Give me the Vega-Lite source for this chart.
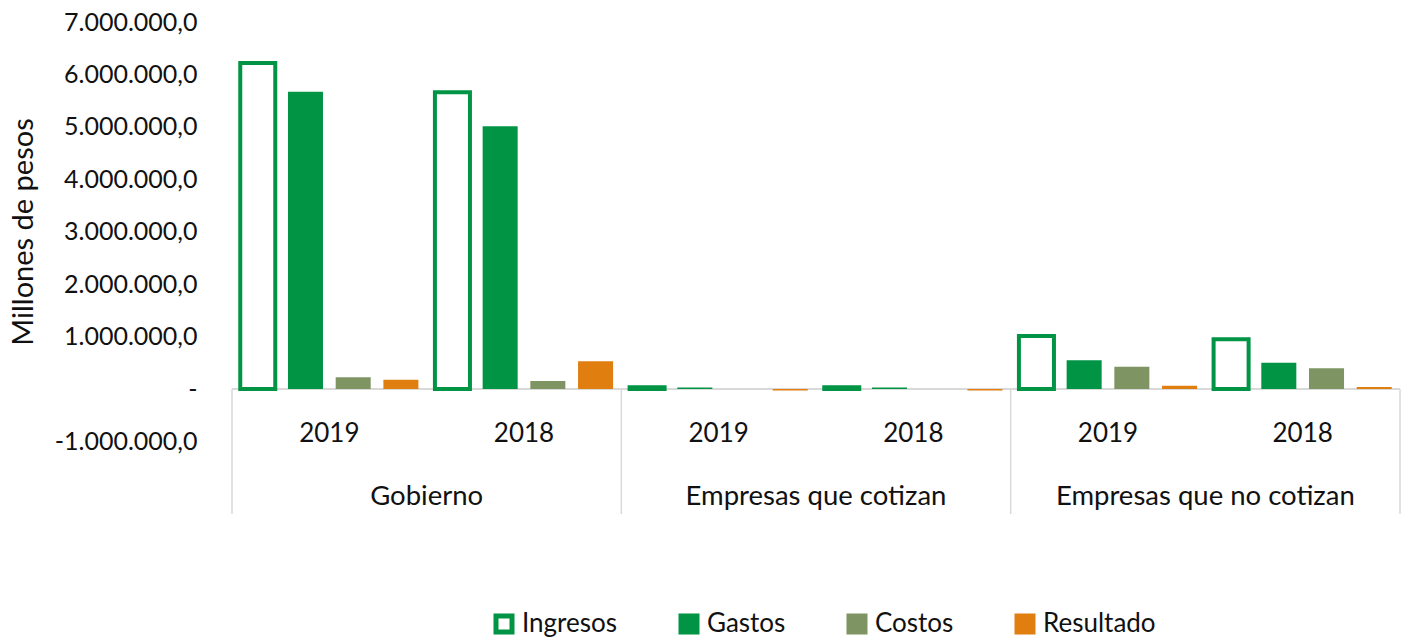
{
  "$schema": "https://vega.github.io/schema/vega-lite/v6.json",
  "width": 1168,
  "height": 492,
  "autosize": {"type": "none"},
  "padding": {"left": 232, "top": 22, "right": 8, "bottom": 125},
  "background": "white",
  "config": {"view": {"stroke": null}},
  "data": {
    "values": [
      {"cat": "Gobierno|2019", "grupo": "Gobierno", "anio": "2019", "serie": "Ingresos", "valor": 6220000},
      {"cat": "Gobierno|2019", "grupo": "Gobierno", "anio": "2019", "serie": "Gastos", "valor": 5670000},
      {"cat": "Gobierno|2019", "grupo": "Gobierno", "anio": "2019", "serie": "Costos", "valor": 223000},
      {"cat": "Gobierno|2019", "grupo": "Gobierno", "anio": "2019", "serie": "Resultado", "valor": 177000},
      {"cat": "Gobierno|2018", "grupo": "Gobierno", "anio": "2018", "serie": "Ingresos", "valor": 5660000},
      {"cat": "Gobierno|2018", "grupo": "Gobierno", "anio": "2018", "serie": "Gastos", "valor": 5010000},
      {"cat": "Gobierno|2018", "grupo": "Gobierno", "anio": "2018", "serie": "Costos", "valor": 153000},
      {"cat": "Gobierno|2018", "grupo": "Gobierno", "anio": "2018", "serie": "Resultado", "valor": 528000},
      {"cat": "Empresas que cotizan|2019", "grupo": "Empresas que cotizan", "anio": "2019", "serie": "Ingresos", "valor": 35000},
      {"cat": "Empresas que cotizan|2019", "grupo": "Empresas que cotizan", "anio": "2019", "serie": "Gastos", "valor": 30000},
      {"cat": "Empresas que cotizan|2019", "grupo": "Empresas que cotizan", "anio": "2019", "serie": "Costos", "valor": 2000},
      {"cat": "Empresas que cotizan|2019", "grupo": "Empresas que cotizan", "anio": "2019", "serie": "Resultado", "valor": -30000},
      {"cat": "Empresas que cotizan|2018", "grupo": "Empresas que cotizan", "anio": "2018", "serie": "Ingresos", "valor": 35000},
      {"cat": "Empresas que cotizan|2018", "grupo": "Empresas que cotizan", "anio": "2018", "serie": "Gastos", "valor": 30000},
      {"cat": "Empresas que cotizan|2018", "grupo": "Empresas que cotizan", "anio": "2018", "serie": "Costos", "valor": 2000},
      {"cat": "Empresas que cotizan|2018", "grupo": "Empresas que cotizan", "anio": "2018", "serie": "Resultado", "valor": -30000},
      {"cat": "Empresas que no cotizan|2019", "grupo": "Empresas que no cotizan", "anio": "2019", "serie": "Ingresos", "valor": 1010000},
      {"cat": "Empresas que no cotizan|2019", "grupo": "Empresas que no cotizan", "anio": "2019", "serie": "Gastos", "valor": 550000},
      {"cat": "Empresas que no cotizan|2019", "grupo": "Empresas que no cotizan", "anio": "2019", "serie": "Costos", "valor": 425000},
      {"cat": "Empresas que no cotizan|2019", "grupo": "Empresas que no cotizan", "anio": "2019", "serie": "Resultado", "valor": 63000},
      {"cat": "Empresas que no cotizan|2018", "grupo": "Empresas que no cotizan", "anio": "2018", "serie": "Ingresos", "valor": 950000},
      {"cat": "Empresas que no cotizan|2018", "grupo": "Empresas que no cotizan", "anio": "2018", "serie": "Gastos", "valor": 500000},
      {"cat": "Empresas que no cotizan|2018", "grupo": "Empresas que no cotizan", "anio": "2018", "serie": "Costos", "valor": 395000},
      {"cat": "Empresas que no cotizan|2018", "grupo": "Empresas que no cotizan", "anio": "2018", "serie": "Resultado", "valor": 38000}
    ]
  },
  "encoding": {
    "x": {
      "field": "cat",
      "type": "nominal",
      "scale": {
        "domain": ["Gobierno|2019", "Gobierno|2018", "Empresas que cotizan|2019", "Empresas que cotizan|2018", "Empresas que no cotizan|2019", "Empresas que no cotizan|2018"],
        "paddingInner": 0,
        "paddingOuter": 0
      },
      "axis": null
    }
  },
  "layer": [
    {
      "mark": {"type": "rule", "color": "#d9d9d9", "strokeWidth": 1.5},
      "encoding": {
        "x": null,
        "y": {"datum": 0, "type": "quantitative", "scale": {"domain": [-2383000, 7000000], "nice": false, "zero": false}}
      }
    },
    {
      "transform": [{"filter": "datum.serie === 'Ingresos' && datum.anio === '2019'"}],
      "mark": {"type": "rule", "color": "#d9d9d9", "strokeWidth": 1.5},
      "encoding": {
        "x": {"field": "cat", "type": "nominal", "bandPosition": 0},
        "y": {"datum": 0, "type": "quantitative"},
        "y2": {"datum": -2383000}
      }
    },
    {
      "transform": [{"filter": "datum.serie === 'Ingresos' && datum.cat === 'Empresas que no cotizan|2018'"}],
      "mark": {"type": "rule", "color": "#d9d9d9", "strokeWidth": 1.5},
      "encoding": {
        "x": {"field": "cat", "type": "nominal", "bandPosition": 1},
        "y": {"datum": 0, "type": "quantitative"},
        "y2": {"datum": -2383000}
      }
    },
    {
      "mark": {"type": "bar"},
      "encoding": {
        "xOffset": {
          "field": "serie",
          "type": "nominal",
          "scale": {"domain": ["Ingresos", "Gastos", "Costos", "Resultado"], "paddingInner": 0.266, "paddingOuter": 0.173}
        },
        "y": {
          "field": "valor",
          "type": "quantitative",
          "scale": {"domain": [-2383000, 7000000], "nice": false, "zero": false},
          "axis": {
            "values": [-1000000, 0, 1000000, 2000000, 3000000, 4000000, 5000000, 6000000, 7000000],
            "labelExpr": "datum.value == 0 ? '-\u00a0\u00a0\u00a0\u00a0' : (datum.value < 0 ? '-' : '') + replace(format(abs(datum.value), ',d'), regexp(',', 'g'), '.') + ',0'",
            "domain": false,
            "ticks": false,
            "tickSize": 0,
            "grid": false,
            "labelPadding": 35,
            "labelFont": "Lato",
            "labelFontSize": 25,
            "labelColor": "#111",
            "labelBaseline": "middle",
            "title": "Millones de pesos",
            "titleFont": "Lato",
            "titleFontSize": 29,
            "titleFontWeight": "normal",
            "titleColor": "#111",
            "titleAngle": -90,
            "titleAlign": "center",
            "titleBaseline": "middle",
            "titleX": -209,
            "titleY": 209.5
          }
        },
        "fill": {
          "field": "serie",
          "type": "nominal",
          "title": null,
          "scale": {"domain": ["Ingresos", "Gastos", "Costos", "Resultado"], "range": ["#ffffff", "#009444", "#7f9463", "#e07f10"]},
          "legend": {
            "orient": "none",
            "direction": "horizontal",
            "legendX": 259,
            "legendY": 589,
            "symbolType": "square",
            "symbolSize": 256,
            "symbolStrokeWidth": 5,
            "labelFont": "Lato",
            "labelFontSize": 26,
            "labelColor": "#111",
            "labelOffset": 5,
            "columnPadding": 53,
            "padding": 0
          }
        },
        "stroke": {
          "field": "serie",
          "type": "nominal",
          "title": null,
          "scale": {"domain": ["Ingresos", "Gastos", "Costos", "Resultado"], "range": ["#009444", "#009444", "#7f9463", "#e07f10"]},
          "legend": {
            "orient": "none",
            "direction": "horizontal",
            "legendX": 259,
            "legendY": 589,
            "symbolType": "square",
            "symbolSize": 256,
            "symbolStrokeWidth": 5,
            "labelFont": "Lato",
            "labelFontSize": 26,
            "labelColor": "#111",
            "labelOffset": 5,
            "columnPadding": 53,
            "padding": 0
          }
        },
        "strokeWidth": {"condition": {"test": "datum.serie === 'Ingresos'", "value": 4}, "value": 0}
      }
    },
    {
      "transform": [{"filter": "datum.serie === 'Ingresos'"}],
      "mark": {"type": "text", "font": "Lato", "fontSize": 26, "color": "#111", "baseline": "alphabetic", "align": "center"},
      "encoding": {
        "text": {"field": "anio"},
        "y": {"datum": -1005000, "type": "quantitative"}
      }
    },
    {
      "transform": [{"filter": "datum.serie === 'Ingresos' && datum.anio === '2019'"}],
      "mark": {"type": "text", "font": "Lato", "fontSize": 27.5, "color": "#111", "baseline": "alphabetic", "align": "center"},
      "encoding": {
        "x": {"field": "cat", "type": "nominal", "bandPosition": 1},
        "text": {"field": "grupo"},
        "y": {"datum": -2210000, "type": "quantitative"}
      }
    }
  ]
}
